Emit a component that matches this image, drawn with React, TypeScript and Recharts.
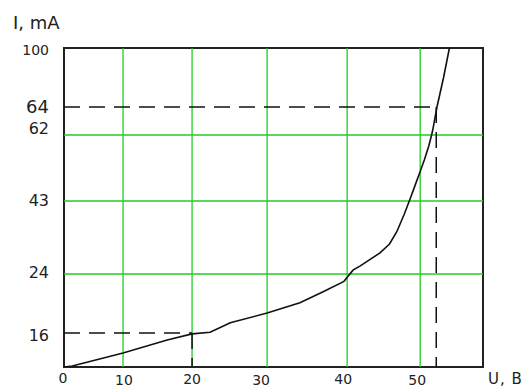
import React from 'react';
import { LineChart, Line, XAxis, YAxis, ReferenceLine, ReferenceArea } from 'recharts';

// Tick labels
const voltTicks = [0, 10, 20, 30, 40, 50];
const currentTicks = [100, 64, 62, 43, 24, 16];

// The original figure's axes are not drawn to scale: these anchors tie each labelled value
// to where it sits along its axis (in axis units).
const voltAnchors = [0, 10, 20, 30, 40, 50];
const voltAnchorPos = [0, 59, 128, 203, 283, 356];
const currentAnchors = [0, 16, 24, 43, 62, 64, 100];
const currentAnchorPos = [0, 34, 93, 166, 232, 260, 319];
const voltMax = 58.6;
const currentMax = 100;

// I-V curve (U in V, I in mA)
const voltage = [0, 1.4, 10, 16.4, 20, 22.4, 25.1, 30, 34.1, 37, 39.6, 40.8, 41.8, 44.5, 45.8, 46.8, 47.8, 48.6, 49.3, 50, 50.6, 51.2, 51.7, 52.3, 53.2, 54];
const current = [0, 0.5, 6.6, 12.7, 15.6, 16.1, 17.4, 18.7, 20.1, 21.6, 23, 25, 26.1, 29.5, 31.8, 35, 39.5, 43.5, 47.5, 51.5, 55, 59, 62.3, 64, 82, 100];

// Grid and marked operating points
const gridVolts = [10, 20, 30, 40, 50];
const gridCurrents = [24, 43, 62];
const markLow = { u: 20, i: 16 };
const markHigh = { u: 52.2, i: 64 };

// styles
const FONT = 'DejaVu Sans';
const GREEN = '#22cc22';
const DASH = '16 9';
const yTickStyle: Record<number, { fs: number; dy: number }> = {
  100: { fs: 14, dy: 2 },
  64: { fs: 18, dy: 0 },
  62: { fs: 16, dy: -6.5 },
  43: { fs: 16, dy: -1 },
  24: { fs: 16, dy: -1.5 },
  16: { fs: 16, dy: 2 },
};
const xTickStyle = [
  { dx: -1, base: 383 },
  { dx: 1, base: 385 },
  { dx: 0, base: 384 },
  { dx: -6, base: 385 },
  { dx: -4, base: 384 },
  { dx: -3, base: 385 },
];

function piecewise(v: number, xs: number[], ys: number[]): number {
  for (let k = 0; k < xs.length - 1; k++) {
    if (v <= xs[k + 1] || k === xs.length - 2) {
      const t = (v - xs[k]) / (xs[k + 1] - xs[k]);
      return ys[k] + t * (ys[k + 1] - ys[k]);
    }
  }
  return ys[0];
}
const posU = (u: number) => piecewise(u, voltAnchors, voltAnchorPos);
const posI = (i: number) => piecewise(i, currentAnchors, currentAnchorPos);

const data = voltage.map((u, k) => ({ u: posU(u), i: posI(current[k]) }));
const xTickPos = voltTicks.map(posU);
const yTickPos = currentTicks.map(posI);
const xMaxPos = posU(voltMax);
const yMaxPos = posI(currentMax);

const XTick = (props: any) => {
  const { x, payload } = props;
  const k = xTickPos.findIndex((p) => Math.abs(p - payload.value) < 1e-6);
  if (k < 0) return null;
  const s = xTickStyle[k];
  return (
    <text x={x + s.dx} y={s.base} textAnchor="middle" fontFamily={FONT} fontSize={14} fill="#222">
      {String(voltTicks[k])}
    </text>
  );
};

const YTick = (props: any) => {
  const { x, y, payload } = props;
  const k = yTickPos.findIndex((p) => Math.abs(p - payload.value) < 1e-6);
  if (k < 0) return null;
  const label = currentTicks[k];
  const s = yTickStyle[label];
  return (
    <text x={x} y={y + s.dy} dy="0.36em" textAnchor="end" fontFamily={FONT} fontSize={s.fs} fill="#222">
      {String(label)}
    </text>
  );
};

const YLabel = (props: any) => {
  const vb = props.viewBox || { x: 0, y: 48 };
  return (
    <text x={vb.x + 13} y={vb.y - 19} fontFamily={FONT} fontSize={18} fill="#222">
      I, mA
    </text>
  );
};

const XLabel = (props: any) => {
  const vb = props.viewBox || { x: 64, y: 367, width: 419 };
  return (
    <text x={vb.x + vb.width + 5} y={384} fontFamily={FONT} fontSize={15} letterSpacing={1} fill="#222">
      U, B
    </text>
  );
};

export default function App() {
  return (
    <div style={{ position: 'absolute', left: 0, top: 0, width: 526, height: 389, background: '#fff' }}>
      <LineChart width={526} height={389} data={data} margin={{ top: 48, right: 43, bottom: 0, left: 0 }}>
        <XAxis
          type="number"
          dataKey="u"
          domain={[0, xMaxPos]}
          ticks={xTickPos}
          tick={<XTick />}
          tickSize={0}
          tickMargin={0}
          axisLine={false}
          tickLine={false}
          height={22}
          allowDataOverflow
          interval={0}
          label={<XLabel />}
        />
        <YAxis
          type="number"
          dataKey="i"
          domain={[0, yMaxPos]}
          ticks={yTickPos}
          tick={<YTick />}
          tickSize={0}
          tickMargin={15}
          axisLine={false}
          tickLine={false}
          width={64}
          allowDataOverflow
          interval={0}
          label={<YLabel />}
        />
        {gridVolts.map((u) => (
          <ReferenceLine key={'gu' + u} x={posU(u)} stroke={GREEN} strokeWidth={1.3} ifOverflow="visible" />
        ))}
        {gridCurrents.map((i) => (
          <ReferenceLine key={'gi' + i} y={posI(i)} stroke={GREEN} strokeWidth={1.3} ifOverflow="visible" />
        ))}
        <ReferenceLine
          segment={[{ x: 0, y: posI(markLow.i) }, { x: posU(markLow.u), y: posI(markLow.i) }]}
          stroke="#111" strokeWidth={1.5} strokeDasharray={DASH} ifOverflow="visible"
        />
        <ReferenceLine
          segment={[{ x: posU(markLow.u), y: posI(markLow.i) }, { x: posU(markLow.u), y: 0 }]}
          stroke="#111" strokeWidth={1.5} strokeDasharray={DASH} ifOverflow="visible"
        />
        <ReferenceLine
          segment={[{ x: 0, y: posI(markHigh.i) }, { x: posU(markHigh.u), y: posI(markHigh.i) }]}
          stroke="#111" strokeWidth={1.5} strokeDasharray={DASH} ifOverflow="visible"
        />
        <ReferenceLine
          segment={[{ x: posU(markHigh.u), y: posI(markHigh.i) }, { x: posU(markHigh.u), y: 0 }]}
          stroke="#111" strokeWidth={1.5} strokeDasharray={DASH} ifOverflow="visible"
        />
        <Line
          type="linear"
          dataKey="i"
          stroke="#111"
          strokeWidth={1.6}
          dot={false}
          activeDot={false}
          isAnimationActive={false}
        />
        <ReferenceArea
          x1={0}
          x2={xMaxPos}
          y1={0}
          y2={yMaxPos}
          fill="none"
          fillOpacity={0}
          stroke="#222"
          strokeWidth={2}
          ifOverflow="visible"
        />
      </LineChart>
    </div>
  );
}
